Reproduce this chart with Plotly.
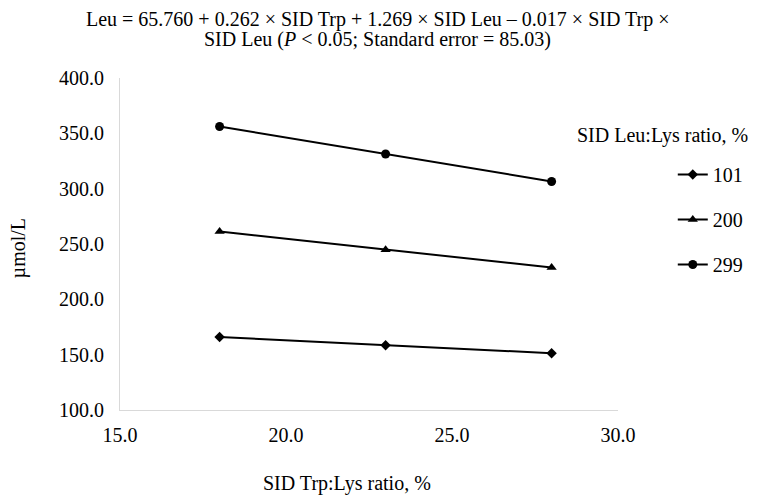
import plotly.graph_objects as go

trp_ratio = [18, 23, 28]
leu_101 = [166.0, 158.5, 151.3]
leu_200 = [261.3, 244.7, 228.7]
leu_299 = [356.2, 331.3, 306.5]
series_names = ["101", "200", "299"]
x_ticks = [15, 20, 25, 30]
y_ticks = [100, 150, 200, 250, 300, 350, 400]

FONT = "Liberation Serif"
FS = 20
fig = go.Figure()
symbols = ["diamond", "triangle-up", "circle"]
sizes = [8, 9, 9]
for name, vals, sym, sz in zip(series_names, [leu_101, leu_200, leu_299], symbols, sizes):
    fig.add_trace(go.Scatter(
        x=trp_ratio, y=vals, name=name, mode="lines+markers",
        line=dict(color="black", width=2),
        marker=dict(symbol=sym, size=sz, color="black"),
        legendgroup=name,
    ))

fig.update_layout(
    width=752, height=490,
    margin=dict(l=112, r=130, t=70, b=88),
    plot_bgcolor="white", paper_bgcolor="white",
    font=dict(family=FONT, size=FS, color="black"),
    xaxis=dict(range=[15, 30], tickvals=x_ticks, tickformat=".1f",
               showgrid=False, zeroline=False, showline=True,
               linecolor="#d9d9d9", linewidth=1, ticks="", ticklabelstandoff=7),
    yaxis=dict(range=[100, 400], tickvals=y_ticks, tickformat=".1f",
               showgrid=False, zeroline=False, showline=True,
               linecolor="#d9d9d9", linewidth=1, ticks="", ticklabelstandoff=11),
    legend=dict(x=1.110, y=0.768, xanchor="left", yanchor="top",
                tracegroupgap=16, font=dict(family=FONT, size=FS),
                bgcolor="rgba(0,0,0,0)"),
    showlegend=True,
)

fig.add_annotation(text="Leu = 65.760 + 0.262 × SID Trp + 1.269 × SID Leu – 0.017 × SID Trp ×",
                   xref="paper", yref="paper", x=0.518, y=1.1747,
                   xanchor="center", yanchor="middle", showarrow=False,
                   font=dict(family=FONT, size=FS))
fig.add_annotation(text="SID Leu (<i>P</i> < 0.05; Standard error = 85.03)",
                   xref="paper", yref="paper", x=0.518, y=1.1145,
                   xanchor="center", yanchor="middle", showarrow=False,
                   font=dict(family=FONT, size=FS))
fig.add_annotation(text="SID Trp:Lys ratio, %", xref="paper", yref="paper",
                   x=0.455, y=-0.22, xanchor="center", yanchor="middle",
                   showarrow=False, font=dict(family=FONT, size=FS))
fig.add_annotation(text="µmol/L", xref="paper", yref="paper",
                   x=-0.202, y=0.488, xanchor="center", yanchor="middle",
                   textangle=-90, showarrow=False, font=dict(family=FONT, size=FS))
fig.add_annotation(text="SID Leu:Lys ratio, %", xref="paper", yref="paper",
                   x=0.914, y=0.828, xanchor="left", yanchor="middle",
                   showarrow=False, font=dict(family=FONT, size=FS))

fig.write_html("out.html")
